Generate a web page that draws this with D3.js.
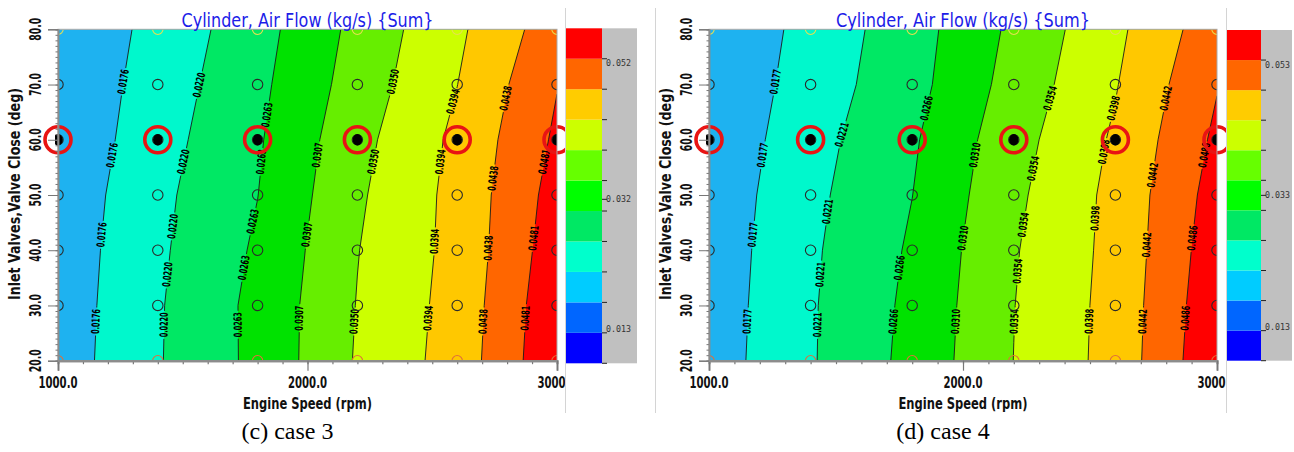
<!DOCTYPE html>
<html><head><meta charset="utf-8">
<script src="https://cdn.jsdelivr.net/npm/d3@7"></script>
<style>body{margin:0;background:#fff;} svg{display:block;}</style>
</head><body>
<svg id="chart" width="1294" height="452"></svg>
<script>
// ---------------- DATA ----------------
const speeds = [1000, 1400, 1800, 2200, 2600, 3000];          // rpm (grid columns)
const angles = [80, 70, 60, 50, 40, 30, 20];                    // deg (grid rows, top to bottom)
const xTickValues = [1000, 2000, 3000];
const xTickLabels = ["1000.0", "2000.0", "3000.0"];
const yTickValues = [20, 30, 40, 50, 60, 70, 80];
const yTickLabels = ["20.0", "30.0", "40.0", "50.0", "60.0", "70.0", "80.0"];
const highlightAngle = 60;

// Cylinder air flow (kg/s), rows = angles, cols = speeds
const case3Values = [
  [0.01363, 0.01898, 0.02464, 0.03191, 0.03857, 0.0463],
  [0.01375, 0.01966, 0.02526, 0.03261, 0.03936, 0.04795],
  [0.01393, 0.02033, 0.02582, 0.03365, 0.04034, 0.04882],
  [0.01449, 0.0210,  0.02625, 0.03435, 0.0407,  0.04979],
  [0.01486, 0.0213,  0.02689, 0.03487, 0.04074, 0.05049],
  [0.01505, 0.0216,  0.02745, 0.03516, 0.04104, 0.05124],
  [0.01525, 0.02168, 0.0274,  0.0354,  0.0413,  0.05159]
];
const case4Values = [
  [0.01389, 0.01906, 0.02472, 0.0319,  0.0388,  0.0469],
  [0.01403, 0.01965, 0.0251,  0.03267, 0.03954, 0.04838],
  [0.0143,  0.02044, 0.02604, 0.03374, 0.0404,  0.04945],
  [0.01475, 0.02103, 0.02656, 0.03448, 0.0410,  0.05042],
  [0.0150,  0.02143, 0.02718, 0.03505, 0.0411,  0.05114],
  [0.01521, 0.02165, 0.02762, 0.03532, 0.0413,  0.05175],
  [0.01542, 0.0217,  0.02791, 0.03544, 0.0414,  0.05223]
];
const case3Levels = [0.0176, 0.0220, 0.0263, 0.0307, 0.0350, 0.0394, 0.0438, 0.0481];
const case4Levels = [0.0177, 0.0221, 0.0266, 0.0310, 0.0354, 0.0398, 0.0442, 0.0486];
// angles (deg) at which each contour carries a label
const case3LabelAngles = [
  [70.5, 57.2, 42.8, 27.1], [69.9, 56.0, 44.3, 35.6, 26.5], [64.5, 56.0, 45.2, 36.8, 26.5],
  [57.2, 42.8, 27.7], [70.5, 56.0, 27.1], [66.9, 56.0, 41.6, 27.7], [67.5, 53.0, 40.4, 27.1], [56.0, 42.2, 27.7]
];
const case4LabelAngles = [
  [70.5, 57.2, 42.8, 27.1], [60.9, 47.0, 35.6, 26.5], [65.7, 36.8, 27.1],
  [57.2, 42.2, 27.1], [67.5, 54.8, 44.6, 36.2, 27.1], [65.7, 57.8, 45.8, 27.1], [67.5, 53.6, 41.0, 27.1], [57.2, 42.2, 27.7]
];
const case3BarTicks = [0.052, 0.032, 0.013];
const case4BarTicks = [0.053, 0.033, 0.013];

const titleText = "Cylinder,  Air  Flow  (kg/s)  {Sum}";
const xTitle = "Engine  Speed  (rpm)";
const yTitle = "Inlet  Valves,Valve  Close  (deg)";

// ---------------- STYLE ----------------
const plotColors = ["#1eb2f0", "#00f8cc", "#00e864", "#00e200", "#66ee00", "#ccff00", "#ffc800", "#ff6600", "#ff0000"];
const barColors = ["#0000ff", "#0066ff", "#00ccff", "#00ffcc", "#00e864", "#00ff00", "#66ff00", "#ccff00", "#ffcc00", "#ff6600", "#ff0000"]; // bottom -> top
const narrow = "'Liberation Sans Narrow','Arial Narrow','DejaVu Sans Condensed',sans-serif";

const panels = [
  { id: "c", values: case3Values, levels: case3Levels, labelAngles: case3LabelAngles, barTicks: case3BarTicks,
    caption: "(c) case 3", px: [58, 557], bar: { x0: 566, x1: 602, x2: 637, y0: 28.3, y1: 363.3 },
    region: [0, 565.5], dividers: [565.5], titleLen: 252 },
  { id: "d", values: case4Values, levels: case4Levels, labelAngles: case4LabelAngles, barTicks: case4BarTicks,
    caption: "(d) case 4", px: [709, 1217], bar: { x0: 1227, x1: 1261, x2: 1292, y0: 30, y1: 360.7 },
    region: [655.5, 1226.5], dividers: [655.5, 1226.5], titleLen: 254 }
];
const PY = [29.3, 360.7];

const svg = d3.select("#chart");
const defs = svg.append("defs");

panels.forEach(p => {
  const xs = d3.scaleLinear().domain([1000, 3000]).range(p.px);
  const ys = d3.scaleLinear().domain([20, 80]).range([PY[1], PY[0]]);
  const nx = speeds.length, ny = angles.length;
  const dSpeed = speeds[1] - speeds[0], dAng = angles[0] - angles[1];
  const gxToPx = gx => xs(speeds[0] + (gx - 0.5) * dSpeed);
  const gyToPy = gy => ys(angles[0] - (gy - 0.5) * dAng);
  const proj = d3.geoTransform({ point(x, y) { this.stream.point(gxToPx(x), gyToPy(y)); } });
  const path = d3.geoPath(proj);
  const flat = p.values.flat();
  const contours = d3.contours().size([nx, ny]).thresholds(p.levels)(flat);

  // clip paths
  defs.append("clipPath").attr("id", "plot-" + p.id).append("rect")
    .attr("x", p.px[0]).attr("y", PY[0]).attr("width", p.px[1] - p.px[0]).attr("height", PY[1] - PY[0]);
  defs.append("clipPath").attr("id", "dot-" + p.id).append("rect")
    .attr("x", p.px[0] - 3).attr("y", PY[0]).attr("width", p.px[1] - p.px[0] + 3).attr("height", PY[1] - PY[0]);
  defs.append("clipPath").attr("id", "region-" + p.id).append("rect")
    .attr("x", p.region[0]).attr("y", 0).attr("width", p.region[1] - p.region[0]).attr("height", 452);

  // filled contours
  const gFill = svg.append("g").attr("clip-path", `url(#plot-${p.id})`);
  gFill.append("rect").attr("x", p.px[0]).attr("y", PY[0]).attr("width", p.px[1] - p.px[0]).attr("height", PY[1] - PY[0])
    .attr("fill", plotColors[0]);
  gFill.selectAll("path.band").data(contours).join("path").attr("class", "band")
    .attr("d", path).attr("fill", (d, i) => plotColors[i + 1]);

  // contour label placement
  const labels = [];
  contours.forEach((geom, li) => {
    const segs = [];
    geom.coordinates.forEach(poly => poly.forEach(ring => {
      for (let i = 1; i < ring.length; i++) {
        segs.push([[gxToPx(ring[i - 1][0]), gyToPy(ring[i - 1][1])], [gxToPx(ring[i][0]), gyToPy(ring[i][1])]]);
      }
    }));
    p.labelAngles[li].forEach(a => {
      const py = ys(a);
      for (const [A, B] of segs) {
        if (A[1] === B[1]) continue;
        const lo = Math.min(A[1], B[1]), hi = Math.max(A[1], B[1]);
        if (py < lo || py > hi) continue;
        if (Math.min(A[0], B[0]) < p.px[0] - 0.5 || Math.max(A[0], B[0]) > p.px[1] + 0.5) continue;
        const t = (py - A[1]) / (B[1] - A[1]);
        const x = A[0] + t * (B[0] - A[0]);
        let ang = Math.atan2(B[1] - A[1], B[0] - A[0]) * 180 / Math.PI;
        if (ang > 0) ang -= 180;
        labels.push({ x, y: py, ang, text: p.levels[li].toFixed(4) });
        break;
      }
    });
  });

  // mask to break lines under labels
  const mask = defs.append("mask").attr("id", "mask-" + p.id).attr("maskUnits", "userSpaceOnUse")
    .attr("x", 0).attr("y", 0).attr("width", 1294).attr("height", 452);
  mask.append("rect").attr("x", 0).attr("y", 0).attr("width", 1294).attr("height", 452).attr("fill", "#fff");
  mask.selectAll("rect.hole").data(labels).join("rect").attr("class", "hole")
    .attr("x", -14).attr("y", -4.5).attr("width", 28).attr("height", 9).attr("fill", "#000")
    .attr("transform", d => `translate(${d.x},${d.y}) rotate(${d.ang})`);

  const gLines = svg.append("g").attr("clip-path", `url(#plot-${p.id})`);
  gLines.append("g").attr("mask", `url(#mask-${p.id})`)
    .selectAll("path").data(contours).join("path")
    .attr("d", path).attr("fill", "none").attr("stroke", "#1a1a1a").attr("stroke-width", 0.9);

  gLines.selectAll("text.clab").data(labels).join("text").attr("class", "clab")
    .attr("transform", d => `translate(${d.x},${d.y}) rotate(${d.ang})`)
    .attr("text-anchor", "middle").attr("dominant-baseline", "central")
    .attr("font-family", narrow).attr("font-weight", "bold").attr("font-size", 11)
    .attr("textLength", 25).attr("lengthAdjust", "spacingAndGlyphs")
    .attr("fill", "#000").text(d => d.text);

  // grid points
  const pts = [];
  angles.forEach(a => speeds.forEach(s => pts.push({ s, a })));
  gLines.selectAll("circle.pt").data(pts).join("circle").attr("class", "pt")
    .attr("cx", d => xs(d.s)).attr("cy", d => ys(d.a)).attr("r", 5.2).attr("fill", "none")
    .attr("stroke", d => d.a === 20 ? "#e0703a" : d.a === 80 ? "#e6e050" : "#2a2a2a").attr("stroke-width", 1.1);

  const hl = speeds.map(s => ({ s, a: highlightAngle }));
  svg.append("g").attr("clip-path", `url(#dot-${p.id})`)
    .selectAll("ellipse").data(hl).join("ellipse")
    .attr("cx", d => xs(d.s)).attr("cy", d => ys(d.a)).attr("rx", 4.8).attr("ry", 5.8).attr("fill", "#000");
  svg.append("g").selectAll("circle").data(hl).join("circle")
    .attr("cx", d => xs(d.s)).attr("cy", d => ys(d.a)).attr("r", 13).attr("fill", "none")
    .attr("stroke", "#e81414").attr("stroke-width", 3.6);

  // plot frame
  svg.append("rect").attr("x", p.px[0]).attr("y", PY[0]).attr("width", p.px[1] - p.px[0]).attr("height", PY[1] - PY[0])
    .attr("fill", "none").attr("stroke", "#a8a8a8").attr("stroke-width", 1);

  // axes
  const gx = svg.append("g").attr("transform", `translate(0,${PY[1]})`);
  gx.call(d3.axisBottom(xs).tickValues(d3.range(1000, 3001, 100)).tickSize(3.5).tickFormat(""));
  gx.call(g => g.append("g").call(d3.axisBottom(xs).tickValues(xTickValues).tickSize(10).tickFormat("")));
  gx.selectAll("path.domain").attr("stroke", "#8c8c8c").attr("stroke-width", 2);
  gx.selectAll(".tick line").attr("stroke", "#777").attr("stroke-width", 1.2);

  const gy = svg.append("g").attr("transform", `translate(${p.px[0]},0)`);
  gy.call(d3.axisLeft(ys).tickValues(d3.range(20, 80.5, 1)).tickSize(2.5).tickFormat(""));
  gy.call(g => g.append("g").call(d3.axisLeft(ys).tickValues(yTickValues).tickSize(10).tickFormat("")));
  gy.selectAll("path.domain").attr("stroke", "#8c8c8c").attr("stroke-width", 1.5);
  gy.selectAll(".tick line").attr("stroke", "#777").attr("stroke-width", 1);

  // tick labels
  svg.append("g").attr("clip-path", `url(#region-${p.id})`)
    .selectAll("text").data(xTickValues).join("text")
    .attr("x", d => xs(d)).attr("y", PY[1] + 27).attr("text-anchor", "middle")
    .attr("font-family", narrow).attr("font-weight", "bold").attr("font-size", 15).attr("fill", "#111")
    .attr("textLength", 39).attr("lengthAdjust", "spacingAndGlyphs")
    .text((d, i) => xTickLabels[i]);
  svg.append("g").selectAll("text").data(yTickValues).join("text")
    .attr("transform", d => `translate(${p.px[0] - 23},${ys(d)}) rotate(-90)`)
    .attr("text-anchor", "middle").attr("dominant-baseline", "central")
    .attr("font-family", narrow).attr("font-weight", "bold").attr("font-size", 16).attr("fill", "#111")
    .attr("textLength", 23).attr("lengthAdjust", "spacingAndGlyphs")
    .text((d, i) => yTickLabels[i]);

  // titles
  const cx = (p.px[0] + p.px[1]) / 2;
  svg.append("text").attr("x", cx).attr("y", 27).attr("text-anchor", "middle")
    .attr("font-family", narrow).attr("font-size", 20).attr("fill", "#1c1ce8")
    .attr("textLength", p.titleLen).attr("lengthAdjust", "spacingAndGlyphs").text(titleText);
  svg.append("text").attr("x", cx).attr("y", 409).attr("text-anchor", "middle")
    .attr("font-family", narrow).attr("font-weight", "bold").attr("font-size", 15).attr("fill", "#111")
    .attr("textLength", 129).attr("lengthAdjust", "spacingAndGlyphs").text(xTitle);
  svg.append("text").attr("transform", `translate(${p.px[0] - 43},194) rotate(-90)`)
    .attr("text-anchor", "middle").attr("dominant-baseline", "central")
    .attr("font-family", narrow).attr("font-weight", "bold").attr("font-size", 15).attr("fill", "#111")
    .attr("textLength", 212).attr("lengthAdjust", "spacingAndGlyphs").text(yTitle);
  svg.append("text").attr("x", cx - 20).attr("y", 439).attr("text-anchor", "middle")
    .attr("font-family", "'Liberation Serif','Times New Roman',serif").attr("font-size", 24).attr("fill", "#000")
    .text(p.caption);

  // colour bar
  const [bmax, bmid, bmin] = p.barTicks;
  const step = (bmax - bmin) / 9;
  const cb = d3.scaleLinear().domain([bmin - step, bmax + step]).range([p.bar.y1, p.bar.y0]);
  const bands = d3.range(11).map(k => ({ lo: bmin - step + k * step, hi: bmin + k * step, color: barColors[k] }));
  svg.append("rect").attr("x", p.bar.x1).attr("y", p.bar.y0).attr("width", p.bar.x2 - p.bar.x1)
    .attr("height", p.bar.y1 - p.bar.y0).attr("fill", "#c0c0c0");
  svg.append("g").selectAll("rect").data(bands).join("rect")
    .attr("x", p.bar.x0).attr("width", p.bar.x1 - p.bar.x0)
    .attr("y", d => cb(d.hi)).attr("height", d => cb(d.lo) - cb(d.hi)).attr("fill", d => d.color);
  const bounds = d3.range(10).map(k => bmin + k * step).concat([bmid]);
  svg.append("g").selectAll("line").data(bounds).join("line")
    .attr("x1", p.bar.x1).attr("x2", p.bar.x1 + 5).attr("y1", d => cb(d)).attr("y2", d => cb(d))
    .attr("stroke", "#222").attr("stroke-width", 1);
  svg.append("line").attr("x1", p.bar.x1).attr("x2", p.bar.x1 + 5).attr("y1", p.bar.y1).attr("y2", p.bar.y1)
    .attr("stroke", "#222");
  svg.append("g").selectAll("text").data(p.barTicks).join("text")
    .attr("x", p.bar.x1 + 4).attr("y", d => cb(d)).attr("dy", (d, i) => [4.5, 0, -3.5][i])
    .attr("dominant-baseline", "central")
    .attr("font-family", "'DejaVu Sans Mono',monospace").attr("font-size", 9).attr("fill", "#333")
    .attr("textLength", 25).attr("lengthAdjust", "spacingAndGlyphs")
    .text(d => d.toFixed(3));

  // divider lines
  svg.append("g").selectAll("line").data(p.dividers).join("line")
    .attr("x1", d => d).attr("x2", d => d).attr("y1", 8).attr("y2", 413)
    .attr("stroke", "#d4d4d4").attr("stroke-width", 1);
});
</script>
</body></html>
